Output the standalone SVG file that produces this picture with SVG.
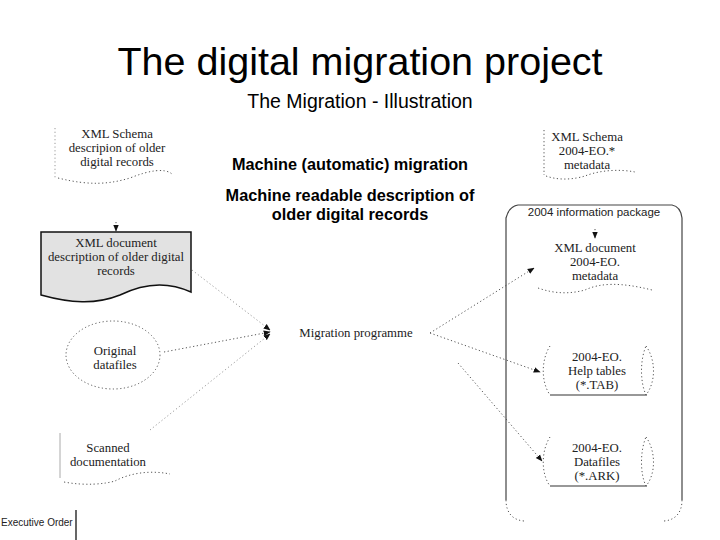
<svg xmlns="http://www.w3.org/2000/svg" width="720" height="540" viewBox="0 0 720 540">
<defs>
<style>
.serif{font-family:"Liberation Serif","Times New Roman",serif;font-size:12.8px;fill:#222;text-anchor:middle}
.dot{fill:none;stroke:#555;stroke-width:1;stroke-dasharray:1.2 2.5}
.dotl{fill:none;stroke:#999;stroke-width:1;stroke-dasharray:1.2 2.5}
.solid{fill:none;stroke:#333;stroke-width:1.2}
.bold{font-family:"Liberation Sans",Arial,sans-serif;font-weight:bold;font-size:16.3px;fill:#000;text-anchor:middle}
</style>
<marker id="ah" viewBox="0 0 10 10" refX="9" refY="5" markerWidth="7" markerHeight="7" orient="auto">
<path d="M0,1 L10,5 L0,9 z" fill="#111"/>
</marker>
</defs>
<rect width="720" height="540" fill="#fff"/>
<text x="360" y="75" font-family="Liberation Sans,Arial,sans-serif" font-size="39.5" text-anchor="middle" fill="#000">The digital migration project</text>
<text x="360" y="108" font-family="Liberation Sans,Arial,sans-serif" font-size="19.5" text-anchor="middle" fill="#000">The Migration - Illustration</text>
<text x="350" y="170" class="bold">Machine (automatic) migration</text>
<text x="350" y="201" class="bold">Machine readable description of</text>
<text x="350" y="220" class="bold">older digital records</text>

<g id="connectors">
<line x1="116" y1="222" x2="116" y2="231" class="dot" marker-end="url(#ah)"/>
<line x1="192" y1="270" x2="270" y2="330" class="dotl" marker-end="url(#ah)"/>
<line x1="164" y1="352" x2="270" y2="332" class="dot" marker-end="url(#ah)"/>
<line x1="150" y1="430" x2="270" y2="334" class="dotl" marker-end="url(#ah)"/>
<line x1="430" y1="333" x2="534" y2="268" class="dot" marker-end="url(#ah)"/>
<line x1="430" y1="333" x2="540" y2="372" class="dot" marker-end="url(#ah)"/>
<line x1="458" y1="363" x2="542" y2="461" class="dot" marker-end="url(#ah)"/>
<line x1="595" y1="229" x2="595" y2="238" class="dot" marker-end="url(#ah)"/>
</g>

<g id="schema-old">
<path d="M55,128 V178" class="dotl"/>
<path d="M58,178 C90,186 110,184 130,178 C150,170 165,168 172,174" class="dot"/>
<text x="117" y="138" class="serif">XML Schema</text>
<text x="117" y="152" class="serif">descripion of older</text>
<text x="117" y="166" class="serif">digital records</text>
</g>

<g id="xml-doc-old">
<path d="M41,232 H191 V292 C165,280 140,285 120,295 C95,305 70,303 41,295 Z" fill="#e2e2e2" stroke="#111" stroke-width="1.5"/>
<text x="116" y="247" class="serif">XML document</text>
<text x="116" y="261" class="serif">description of older digital</text>
<text x="116" y="275" class="serif">records</text>
</g>

<g id="original-datafiles">
<ellipse cx="113" cy="355" rx="47" ry="34" class="dot"/>
<text x="115" y="355" class="serif">Original</text>
<text x="115" y="369" class="serif">datafiles</text>
</g>

<g id="scanned-doc">
<path d="M60,433 V478" stroke="#aaa" stroke-width="1" fill="none"/>
<path d="M64,482 C85,486 105,484 115,481 C130,473 150,470 170,474" class="dot"/>
<text x="108" y="452" class="serif">Scanned</text>
<text x="108" y="466" class="serif">documentation</text>
</g>

<g id="migration-programme">
<text x="356" y="337" class="serif">Migration programme</text>
</g>

<g id="schema-2004">
<path d="M544,130 V175" class="dot"/>
<path d="M546,176 C560,181 575,179 585,176 C600,170 620,169 635,172" class="dot"/>
<text x="587" y="141" class="serif">XML Schema</text>
<text x="587" y="155" class="serif">2004-EO.*</text>
<text x="587" y="169" class="serif">metadata</text>
</g>

<g id="package">
<path d="M506,500 V218 C508,210 512,206 518,205 H672 C678,206 681,210 682,218 V500" stroke="#444" stroke-width="1.2" fill="none"/>
<path d="M506,500 C506,512 512,520 524,521" class="dot"/>
<path d="M682,500 C682,512 676,520 664,521" class="dot"/>
<text x="594" y="216" font-family="Liberation Sans,Arial,sans-serif" font-size="11.5" text-anchor="middle" fill="#222">2004 information package</text>
</g>

<g id="xml-doc-2004">
<path d="M538,288 C555,294 570,294 585,290 C600,283 620,282 652,290" class="dot"/>
<text x="595" y="252" class="serif">XML document</text>
<text x="595" y="266" class="serif">2004-EO.</text>
<text x="595" y="280" class="serif">metadata</text>
</g>

<g id="help-tables">
<path d="M550,346 C541,360 541,382 550,395" class="dot"/>
<path d="M646,346 C656,360 656,382 646,395 C640,382 640,360 646,346 Z" class="dot"/>
<line x1="550" y1="395" x2="647" y2="395" class="solid"/>
<text x="597" y="361" class="serif">2004-EO.</text>
<text x="597" y="375" class="serif">Help tables</text>
<text x="597" y="389" class="serif">(*.TAB)</text>
</g>

<g id="datafiles-2004">
<path d="M550,437 C541,451 541,474 550,486" class="dot"/>
<path d="M646,437 C656,451 656,474 646,486 C640,474 640,451 646,437 Z" class="dot"/>
<line x1="550" y1="486" x2="647" y2="486" class="solid"/>
<text x="597" y="452" class="serif">2004-EO.</text>
<text x="597" y="466" class="serif">Datafiles</text>
<text x="597" y="480" class="serif">(*.ARK)</text>
</g>

<g id="footer">
<text x="1" y="526" font-family="Liberation Sans,Arial,sans-serif" font-size="10" fill="#222">Executive Order</text>
<line x1="76" y1="510" x2="76" y2="540" stroke="#000" stroke-width="1.2"/>
</g>
</svg>
